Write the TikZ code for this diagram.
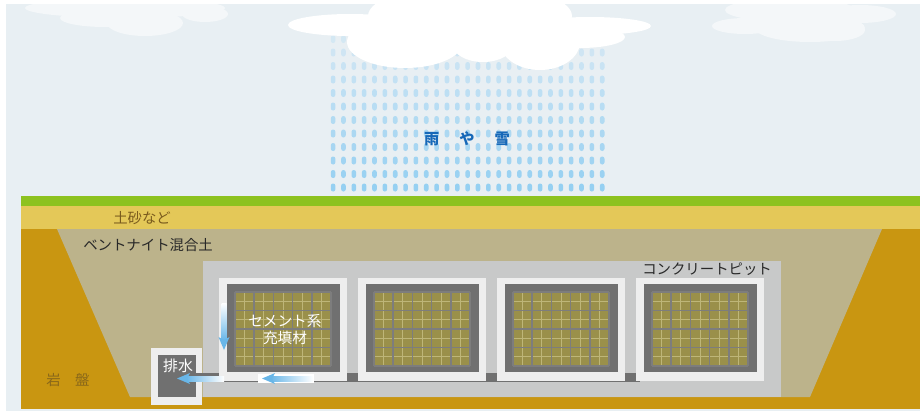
\documentclass[tikz,border=0pt]{standalone}
\usepackage{fontspec}
\setmainfont{Noto Sans CJK JP}
\usepackage{tikz}

\definecolor{skybg}{RGB}{232,239,243}
\definecolor{cloudpale}{RGB}{244,247,249}
\definecolor{raindrop}{RGB}{150,208,242}
\definecolor{raintext}{RGB}{22,104,184}
\definecolor{grass}{RGB}{141,194,31}
\definecolor{sand}{RGB}{228,200,88}
\definecolor{bedrock}{RGB}{201,150,17}
\definecolor{bentonite}{RGB}{188,179,139}
\definecolor{pitgray}{RGB}{200,201,201}
\definecolor{framewhite}{RGB}{238,238,238}
\definecolor{darkgray}{RGB}{112,112,112}
\definecolor{fillolive}{RGB}{154,144,74}
\definecolor{olivelight}{RGB}{190,182,120}
\definecolor{gridline}{RGB}{125,125,125}
\definecolor{flowblue}{RGB}{104,182,232}
\definecolor{soiltext}{RGB}{122,92,30}
\definecolor{rocktext}{RGB}{138,104,26}
\definecolor{labeltext}{RGB}{40,40,40}

\begin{document}
\begin{tikzpicture}[
    x=0.75pt, y=-0.75pt,
    font=\fontsize{10.8}{13}\selectfont,
    lbl/.style={inner sep=0pt, anchor=west},
    headtip/.style={fill=flowblue},
  ]

  % sky and page
  \fill[white] (0,0) rectangle (924,411);
  \useasboundingbox (0,0) rectangle (924,411);
  \fill[skybg] (6,4) rectangle (920,411);

  % small clouds
  \begin{scope}[cloudpale]
    \clip (6,4) rectangle (920,411);
    \fill (125,8) ellipse [x radius=100, y radius=10];
    \fill (105,18) ellipse [x radius=45, y radius=9];
    \fill (145,23) ellipse [x radius=38, y radius=13];
    \fill (205,14) ellipse [x radius=23, y radius=8];
    \fill (790,10) ellipse [x radius=65, y radius=12];
    \fill (745,26) ellipse [x radius=33, y radius=8];
    \fill (810,28) ellipse [x radius=55, y radius=14];
    \fill (860,14) ellipse [x radius=36, y radius=9];
    \fill (835,30) ellipse [x radius=30, y radius=11];
  \end{scope}

  % rain
  \foreach \r [evaluate=\r as \pc using int(24+7*\r)] in {0,...,11}
    \foreach \c in {0,...,26}
      \fill[raindrop!\pc!skybg, rounded corners=1.7pt]
        (330.8+10.35*\c,35+13.5*\r) rectangle (335.4+10.35*\c,43+13.5*\r);

  % rain cloud
  \begin{scope}[white]
    \fill (350,25) ellipse [x radius=62, y radius=11];
    \fill (405,42) ellipse [x radius=58, y radius=26];
    \fill (470,16) ellipse [x radius=102, y radius=32];
    \fill (483,45) ellipse [x radius=30, y radius=17];
    \fill (540,42) ellipse [x radius=40, y radius=28];
    \fill (590,26) ellipse [x radius=61, y radius=9];
    \fill (580,37) ellipse [x radius=45, y radius=11];
  \end{scope}
  \node[inner sep=0pt, text=raintext, font=\fontsize{11.4}{13}\selectfont\bfseries] (rain)
    at (467,139) {雨\hspace{15pt}や\hspace{15pt}雪};

  % ground layers
  \fill[grass] (21,196) rectangle (920,206);
  \fill[sand] (21,206) rectangle (920,229);
  \fill[bedrock] (21,229) rectangle (920,409);
  \fill[bentonite] (57,229) -- (882,229) -- (810,397) -- (130,397) -- cycle;

  % concrete pit
  \fill[pitgray] (203,261) rectangle (781,397);

  % drain
  \fill[framewhite] (151,348) rectangle (202,405);
  \fill[darkgray] (158,355) rectangle (196,397);
  \fill[darkgray] (190,373) rectangle (640,382);

  % waste packages
  \foreach \i [evaluate=\i as \mx using 219+139*\i] in {0,...,3}{
    \fill[framewhite] (\mx,278) rectangle (\mx+128,381);
    \fill[darkgray] (\mx+7.5,284) rectangle (\mx+121,372);
    \fill[fillolive] (\mx+16,292) rectangle (\mx+112,366);
    \foreach \k in {0,...,4}
      \draw[olivelight, line width=0.5pt]
        (\mx+16+19.2*\k+9.6,292) -- (\mx+16+19.2*\k+9.6,366);
    \foreach \k in {0,...,3}
      \draw[olivelight, line width=0.5pt]
        (\mx+16,292+18.5*\k+9.25) -- (\mx+112,292+18.5*\k+9.25);
    \foreach \k in {0,...,5}
      \draw[gridline, line width=1.1pt]
        (\mx+16+19.2*\k,292) -- (\mx+16+19.2*\k,366);
    \foreach \k in {0,...,4}
      \draw[gridline, line width=1.1pt]
        (\mx+16,292+18.5*\k) -- (\mx+112,292+18.5*\k);
  }

  % water flow
  \shade[top color=white, bottom color=flowblue] (221.5,303) rectangle (226.5,340);
  \fill[headtip] (224,350) -- (218.5,337) -- (224,340) -- (229.5,337) -- cycle;
  \fill[white] (258,374) rectangle (314,383);
  \shade[left color=flowblue, right color=white] (270,376) rectangle (313,381);
  \fill[headtip] (262,378.5) -- (275,373) -- (272,378.5) -- (275,384) -- cycle;
  \shade[left color=flowblue, right color=white] (186,376) rectangle (224,381);
  \fill[headtip] (177,378.5) -- (190,373) -- (187,378.5) -- (190,384) -- cycle;

  % labels
  \node[lbl, text=soiltext] (soil) at (113,218) {土砂など};
  \node[lbl, text=labeltext] (bent) at (83,245) {ベントナイト混合土};
  \node[lbl, text=labeltext] (pit) at (642,269) {コンクリートピット};
  \node[lbl, text=rocktext] (rock) at (46,380) {岩\hspace{1em}盤};
  \node[inner sep=0pt, text=white, align=center,
    font=\fontsize{11}{12.8}\selectfont] (fill) at (285,329.5) {セメント系\\充填材};
  \node[inner sep=0pt, text=white, font=\fontsize{11.2}{13}\selectfont] (drain)
    at (178,366) {排水};

\end{tikzpicture}
\end{document}
